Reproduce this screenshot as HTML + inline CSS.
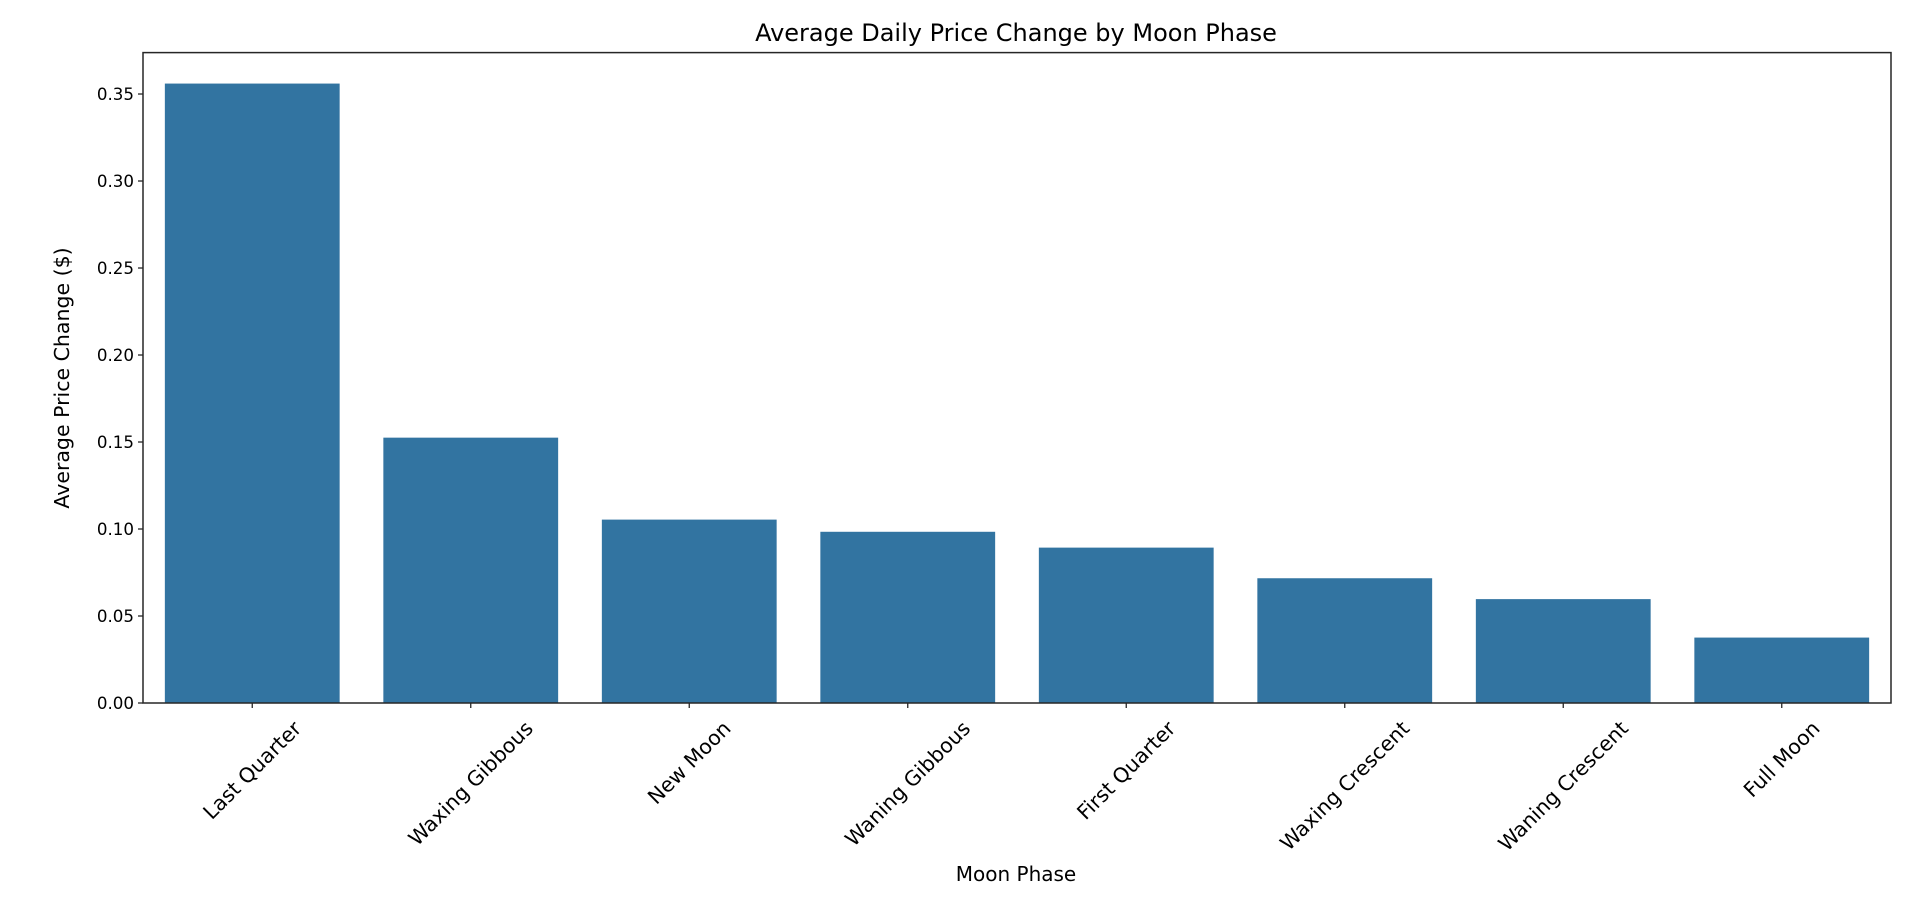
<!DOCTYPE html>
<html><head><meta charset="utf-8"><style>
html,body{margin:0;padding:0;background:#fff;}
svg{display:block;font-family:"DejaVu Sans","Liberation Sans",sans-serif;}
</style></head><body>
<svg id="chart" width="1918" height="913" viewBox="0 0 1918 913" xmlns="http://www.w3.org/2000/svg">
<rect width="1918" height="913" fill="#fff"/>
<text x="1016" y="41" font-size="24" text-anchor="middle" fill="#000">Average Daily Price Change by Moon Phase</text>
<text x="1016" y="881" font-size="20" text-anchor="middle" fill="#000">Moon Phase</text>
<text transform="translate(69,378) rotate(-90)" font-size="20.5" text-anchor="middle" fill="#000">Average Price Change ($)</text>
<g id="bars"></g>
<g id="yticks"></g>
<g id="xticks"></g>
<rect x="143" y="52.6" width="1748" height="650.4" fill="none" stroke="#262626" stroke-width="1.5"/>
</svg>
<script>
const categories = ["Last Quarter","Waxing Gibbous","New Moon","Waning Gibbous","First Quarter","Waxing Crescent","Waning Crescent","Full Moon"];
const values = [0.356,0.1525,0.1054,0.0984,0.0893,0.0717,0.0597,0.0376];
const yTicks = [0,0.05,0.10,0.15,0.20,0.25,0.30,0.35];
const yTickLabels = ["0.00","0.05","0.10","0.15","0.20","0.25","0.30","0.35"];

const NS="http://www.w3.org/2000/svg";
const L=143,R=1891,T=52.6,B=703;
const yMax=Math.max(...values)*1.05;
function ys(v){return B-(v/yMax)*(B-T);}
const step=(R-L)/categories.length;
function xs(i){return L+step*(i+0.5);}
const bars=document.getElementById('bars');
values.forEach((v,i)=>{
  const r=document.createElementNS(NS,'rect');
  
  
  const w=step*0.8;
  r.setAttribute('x',xs(i)-w/2);r.setAttribute('width',w);
  r.setAttribute('y',ys(v));r.setAttribute('height',B-ys(v));
  r.setAttribute('fill','#3274a1');
  bars.appendChild(r);
});
const yg=document.getElementById('yticks');
yTicks.forEach((t,i)=>{
  const y=ys(t);
  const ln=document.createElementNS(NS,'line');
  
  
  ln.setAttribute('x1',L-5);ln.setAttribute('x2',L);ln.setAttribute('y1',y);ln.setAttribute('y2',y);
  ln.setAttribute('stroke','#262626');ln.setAttribute('stroke-width','1.3');
  yg.appendChild(ln);
  const tx=document.createElementNS(NS,'text');
  
  
  tx.setAttribute('x',L-9);tx.setAttribute('y',y+6);
  tx.setAttribute('font-size','16.7');tx.setAttribute('text-anchor','end');
  tx.textContent=yTickLabels[i];
  yg.appendChild(tx);
});
const xg=document.getElementById('xticks');
categories.forEach((c,i)=>{
  const x=xs(i);
  const ln=document.createElementNS(NS,'line');
  
  
  ln.setAttribute('x1',x);ln.setAttribute('x2',x);ln.setAttribute('y1',B);ln.setAttribute('y2',B+5);
  ln.setAttribute('stroke','#262626');ln.setAttribute('stroke-width','1.3');
  xg.appendChild(ln);
  const tx=document.createElementNS(NS,'text');
  
  
  tx.setAttribute('font-size','20.5');tx.setAttribute('text-anchor','middle');
  tx.setAttribute('dominant-baseline','central');
  tx.textContent=c;
  xg.appendChild(tx);
  const w=tx.getComputedTextLength();const h=22;
  const bb=(w+h)*Math.SQRT1_2;
  const cy=B+14+bb/2;
  tx.setAttribute('x',x);tx.setAttribute('y',cy);
  tx.setAttribute('transform','rotate(-45 '+x+' '+cy+')');
});
</script>
</body></html>
